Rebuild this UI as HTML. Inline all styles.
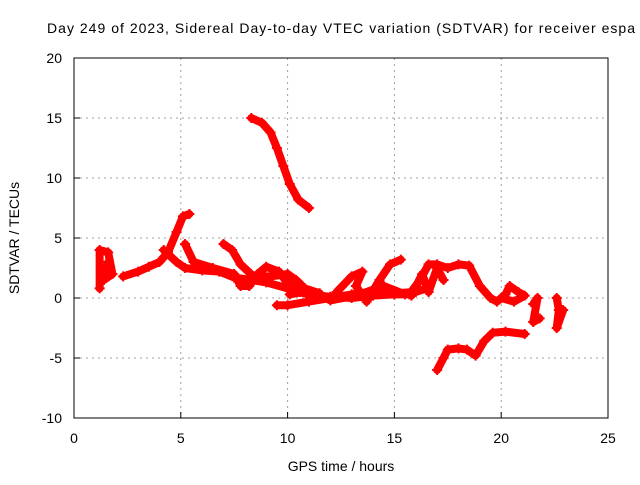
<!DOCTYPE html>
<html><head><meta charset="utf-8"><style>
body{margin:0;background:#fff}
svg text{font-family:"Liberation Sans",sans-serif;font-size:14px;fill:#000}
</style></head><body>
<svg id="chart" width="640" height="480" xmlns="http://www.w3.org/2000/svg">
<text x="47" y="33" textLength="588" lengthAdjust="spacing">Day 249 of 2023, Sidereal Day-to-day VTEC variation (SDTVAR) for receiver espa</text>
<g id="grid"></g>
<g id="axes"></g>
<g id="series"></g>
<rect x="74" y="58" width="534" height="360" fill="none" stroke="#000" stroke-width="1"/>
<text x="341" y="471" text-anchor="middle">GPS time / hours</text>
<text transform="translate(19,238) rotate(-90)" text-anchor="middle">SDTVAR / TECUs</text>
</svg>
<script>
const xTicks=[0,5,10,15,20,25];
const yTicks=[-10,-5,0,5,10,15,20];
const traceA=[[2.3,1.8],[3,2.2],[3.5,2.6],[4,3],[4.4,3.8],[4.8,5.5],[5.1,6.8],[5.4,7]];
const traceB=[[4.2,4],[4.8,3],[5.2,2.5],[6,2.3],[6.8,2.2],[7.5,1.7],[8.3,1.5],[9,1.3],[10,0.8],[11,0.3],[12,0.1],[13,0],[14,0.2],[15,0.3]];
const traceC=[[5.2,4.5],[5.6,3],[6.5,2.5],[7.5,2],[7.8,1],[8.2,1],[8.6,2],[9,2.6],[9.6,2.2],[10,1.2],[10.6,0.5],[11.5,0]];
const traceD=[[7,4.5],[7.4,4],[7.8,2.8],[8.4,1.8],[9.2,1.8],[10,2],[10.4,1.5],[10.8,0.8],[11.5,0.4]];
const traceE=[[9.5,-0.6],[10,-0.6],[11,-0.3],[12,0],[13,0.3],[14,0.5],[15,0.4],[16,0.5],[16.5,0.8]];
const traceF=[[12.3,0.5],[13,1.8],[13.5,2.2],[13.2,1],[13.7,-0.3],[14.3,1.5],[14.8,2.8],[15.3,3.2]];
const traceG=[[15,0.3],[15.7,0.3],[16.2,1.5],[16.6,2.8],[17,2.8],[17.5,2.5],[18,2.8],[18.5,2.7],[19,1],[19.5,0],[19.8,-0.3],[20.2,0.3],[20.4,1],[20.8,0.5],[21.1,0.2],[20.6,-0.3],[20,0]];
const traceH=[[15.8,0.2],[16.3,2],[16.6,0.5],[17,2.5],[17.3,1.5]];
const traceI=[[17,-6],[17.3,-5],[17.5,-4.3],[18,-4.2],[18.4,-4.3],[18.8,-4.8],[19.2,-3.6],[19.6,-2.9],[20.2,-2.8],[21.1,-3]];
const traceJ=[[21.5,-0.5],[21.7,0],[21.5,-2],[21.8,-1.7]];
const traceK=[[22.6,0],[22.7,-1],[22.6,-2.5],[22.9,-1]];
const traceL=[[1.2,0.8],[1.2,4],[1.6,3.8],[1.8,2],[1.4,1.5],[1.6,3]];
const traceM=[[10.1,0.3],[11,0.6],[12,-0.2],[13.2,0.2],[14.5,1],[15.5,0.3]];
const traceN=[[8.3,15],[8.8,14.6],[9.2,13.8],[9.5,12.5],[9.8,11],[10.1,9.5],[10.5,8.2],[11,7.5]];
const traces=[traceA,traceB,traceC,traceD,traceE,traceF,traceG,traceH,traceI,traceJ,traceK,traceL,traceM,traceN];
const NS="http://www.w3.org/2000/svg";
const X0=74,X1=608,Y0=418,Y1=58;
const sx=v=>X0+(v-0)/(25-0)*(X1-X0);
const sy=v=>Y0-(v+10)/(30)*(Y0-Y1);
const grid=document.getElementById('grid'),axes=document.getElementById('axes'),ser=document.getElementById('series');
function mk(t,a,p){const e=document.createElementNS(NS,t);for(const k in a)e.setAttribute(k,a[k]);p.appendChild(e);return e;}
xTicks.forEach(t=>{const x=sx(t);
 if(t>0&&t<25){const g=mk('line',{x1:x,x2:x,y1:Y1,y2:Y0,stroke:'#a0a0a0','stroke-dasharray':'2,4'},grid);
 }
 const tk=mk('line',{x1:x,x2:x,y1:Y0,y2:Y0-6,stroke:'#000'},axes);
 
 const l=mk('text',{x:x,y:443,'text-anchor':'middle'},axes);l.textContent=t;
 });
yTicks.forEach(t=>{const y=sy(t);
 if(t>-10&&t<20){const g=mk('line',{x1:X0,x2:X1,y1:y,y2:y,stroke:'#a0a0a0','stroke-dasharray':'2,4'},grid);
 }
 const tk=mk('line',{x1:X0,x2:X0+6,y1:y,y2:y,stroke:'#000'},axes);
 
 const l=mk('text',{x:62,y:y+5,'text-anchor':'end'},axes);l.textContent=t;
 });
traces.forEach((tr,i)=>{
 const pl=mk('polyline',{points:tr.map(p=>sx(p[0])+','+sy(p[1])).join(' '),fill:'none',stroke:'#ff0000','stroke-width':8,'stroke-linejoin':'round','stroke-linecap':'round'},ser);
 
 tr.forEach(p=>{const x=sx(p[0]),y=sy(p[1]);
  const m=mk('path',{d:`M${x-5},${y}H${x+5}M${x},${y-5}V${y+5}`,stroke:'#ff0000','stroke-width':2},ser);
  });
});
</script>
</body></html>
